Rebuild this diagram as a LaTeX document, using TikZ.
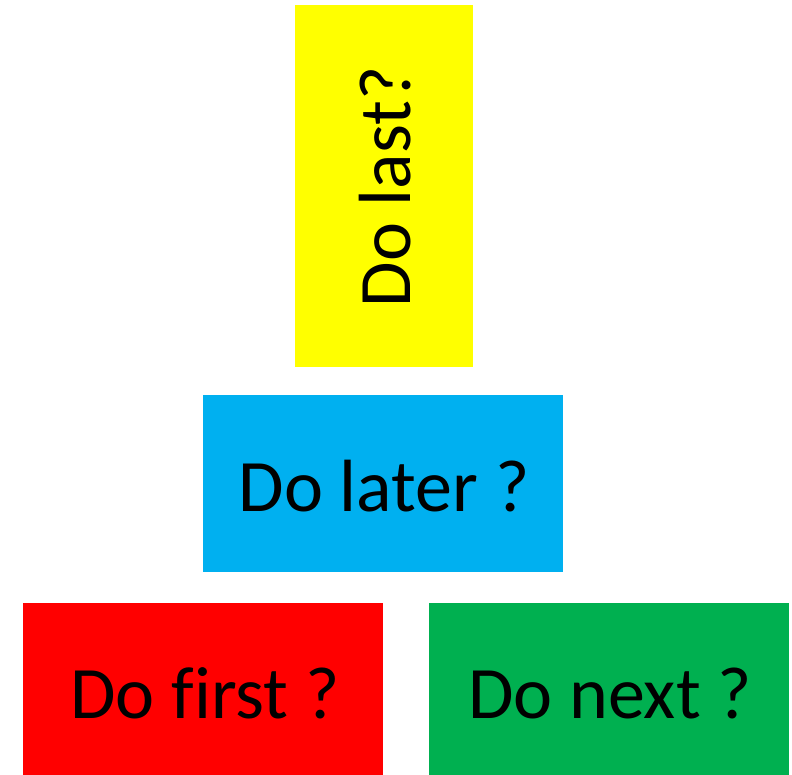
\documentclass[tikz,border=0pt]{standalone}
\usepackage{fontspec}
\setmainfont{Carlito}[Ligatures=NoCommon]
\definecolor{cyellow}{HTML}{FFFF00}
\definecolor{cblue}{HTML}{00B0F0}
\definecolor{cred}{HTML}{FF0000}
\definecolor{cgreen}{HTML}{00B050}
\tikzset{
  box/.style={rectangle, inner sep=0pt, outer sep=0pt, draw=none, anchor=north west},
  lbl/.style={inner sep=0pt, outer sep=0pt, anchor=base, text=black, font=\fontsize{74}{82}\selectfont}
}
\begin{document}
\begin{tikzpicture}[x=1pt,y=-1pt]
\useasboundingbox (0,0) rectangle (792,775);
\node[box, fill=cyellow, minimum width=178pt, minimum height=362pt] (last) at (295,5) {};
\node[box, fill=cblue, minimum width=360pt, minimum height=177pt] (later) at (203,395) {};
\node[box, fill=cred, minimum width=360pt, minimum height=172pt] (first) at (23,603) {};
\node[box, fill=cgreen, minimum width=360pt, minimum height=172pt] (next) at (429,603) {};
\node[lbl, rotate=90] (tlast) at (410,187) {Do last?};
\node[lbl] (tlater) at (384,511) {Do later ?};
\node[lbl] (tfirst) at (205,718) {Do f\kern0pt irst ?};
\node[lbl] (tnext) at (610,718) {Do next ?};
\end{tikzpicture}
\end{document}
